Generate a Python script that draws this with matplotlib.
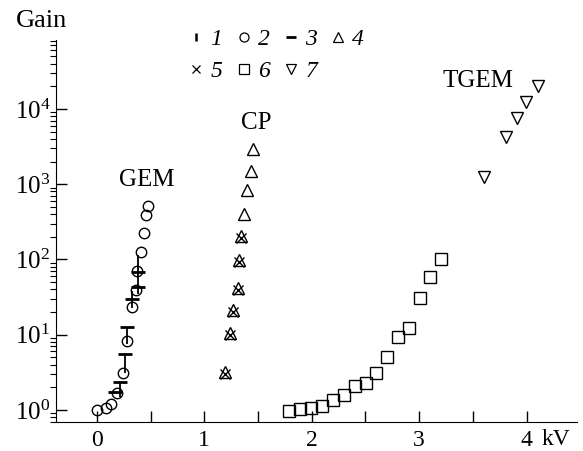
import matplotlib
matplotlib.use('Agg')
import matplotlib.pyplot as plt
from matplotlib.lines import Line2D
from matplotlib.ticker import LogLocator, MultipleLocator, FuncFormatter

plt.rcParams['font.family'] = ['Liberation Serif', 'DejaVu Serif']
plt.rcParams['mathtext.fontset'] = 'stix'

# 1: vertical bars (x, low, high)
s1_x = [0.217, 0.26, 0.28, 0.33, 0.38]
s1_lo = [1.5, 3.1, 7.6, 23, 35]
s1_hi = [2.36, 5.6, 12.5, 38, 116]
# 2: GEM circles
s2_x = [0.0, 0.087, 0.133, 0.186, 0.242, 0.28, 0.326, 0.363, 0.378, 0.413, 0.435, 0.457, 0.481]
s2_y = [1.0, 1.05, 1.2, 1.7, 3.1, 8.2, 23.3, 39, 69.5, 127, 228, 394, 515]
# 3: dashes
s3_x = [0.165, 0.217, 0.26, 0.283, 0.33, 0.38, 0.385]
s3_y = [1.73, 2.36, 5.6, 12.5, 30, 69, 43]
# 4: CP up-triangles
s4_x = [1.196, 1.236, 1.268, 1.311, 1.323, 1.342, 1.367, 1.398, 1.435, 1.453]
s4_y = [3.2, 10.4, 21, 42, 99, 207, 406, 826, 1514, 2912]
# 5: crosses
s5_x = [1.196, 1.236, 1.268, 1.311, 1.323, 1.342]
s5_y = [3.0, 9.8, 19.8, 39.5, 93, 195]
# 6: squares
s6_x = [1.792, 1.895, 1.997, 2.097, 2.196, 2.298, 2.398, 2.501, 2.6, 2.696, 2.802, 2.901, 3.004, 3.103, 3.206]
s6_y = [0.97, 1.02, 1.07, 1.13, 1.35, 1.57, 2.09, 2.31, 3.13, 5.13, 9.2, 12.2, 30.4, 58.6, 100]
# 7: TGEM down-triangles
s7_x = [3.603, 3.805, 3.914, 3.998, 4.101]
s7_y = [1259, 4246, 7600, 12400, 19900]

labels = ['GEM', 'CP', 'TGEM']
label_x = [0.469, 1.485, 3.544]
label_y = [1130, 6560, 23300]

fig = plt.figure(figsize=(5.83, 4.51), dpi=100)
ax = fig.add_axes([0.096, 0.065, 0.894, 0.846])

k = dict(color='black', linestyle='none', mfc='none', mew=1.0)
ax.vlines(s1_x, s1_lo, s1_hi, color='black', lw=1.3)
ax.plot(s2_x, s2_y, marker='o', ms=7.5, **k)
ax.plot(s3_x, s3_y, marker='_', ms=9.5, color='black', linestyle='none', mew=2.0)
ax.plot(s4_x, s4_y, marker='^', ms=9, **k)
ax.plot(s5_x, s5_y, marker='x', ms=6.5, **k)
ax.plot(s6_x, s6_y, marker='s', ms=8.5, **k)
ax.plot(s7_x, s7_y, marker='v', ms=9, **k)

for t, x, y in zip(labels, label_x, label_y):
    ax.text(x, y, t, fontsize=18, ha='center', va='center')

ax.set_yscale('log')
ax.set_xlim(-0.38, 4.47)
ax.set_ylim(0.70, 8.2e4)

ax.spines['top'].set_visible(False)
ax.spines['right'].set_visible(False)
ax.xaxis.set_major_locator(MultipleLocator(0.5))
ax.xaxis.set_major_formatter(FuncFormatter(lambda v, p: '%d' % round(v) if abs(v - round(v)) < 1e-6 else ''))
ax.yaxis.set_major_locator(LogLocator(base=10, numticks=10))
ax.yaxis.set_minor_locator(LogLocator(base=10, subs=range(2, 10), numticks=20))
ax.tick_params(direction='in', labelsize=17, width=1.0)
ax.tick_params(axis='x', length=8, pad=6)
ax.tick_params(axis='y', which='major', length=8, pad=4)
ax.tick_params(axis='y', which='minor', length=4, width=0.8)
ax.yaxis.set_tick_params(labelsize=18)

ax.text(4.27, -0.048, 'kV', transform=ax.get_xaxis_transform(), fontsize=17, ha='center', va='center')
ax.text(-0.028, 1.05, 'Gain', transform=ax.transAxes, fontsize=19, ha='center', va='center')

handles = [
    Line2D([], [], marker='|', ms=6, mew=1.8, color='black', linestyle='none'),
    Line2D([], [], marker='x', ms=5.5, mew=0.9, color='black', linestyle='none'),
    Line2D([], [], marker='o', ms=6.5, mew=0.9, mfc='none', color='black', linestyle='none'),
    Line2D([], [], marker='s', ms=6.5, mew=0.9, mfc='none', color='black', linestyle='none'),
    Line2D([], [], marker='_', ms=7, mew=2, color='black', linestyle='none'),
    Line2D([], [], marker='v', ms=6.5, mew=0.9, mfc='none', color='black', linestyle='none'),
    Line2D([], [], marker='^', ms=6.5, mew=0.9, mfc='none', color='black', linestyle='none'),
]
names = ['1', '5', '2', '6', '3', '7', '4']
ax.legend(handles, names, ncol=4, frameon=False, loc='upper left',
          bbox_to_anchor=(0.215, 1.086), handlelength=0.6, handletextpad=0.3,
          columnspacing=0.6, labelspacing=0.43,
          prop={'family': 'Liberation Serif', 'style': 'italic', 'size': 17})

fig.savefig('out.png', dpi=100)
